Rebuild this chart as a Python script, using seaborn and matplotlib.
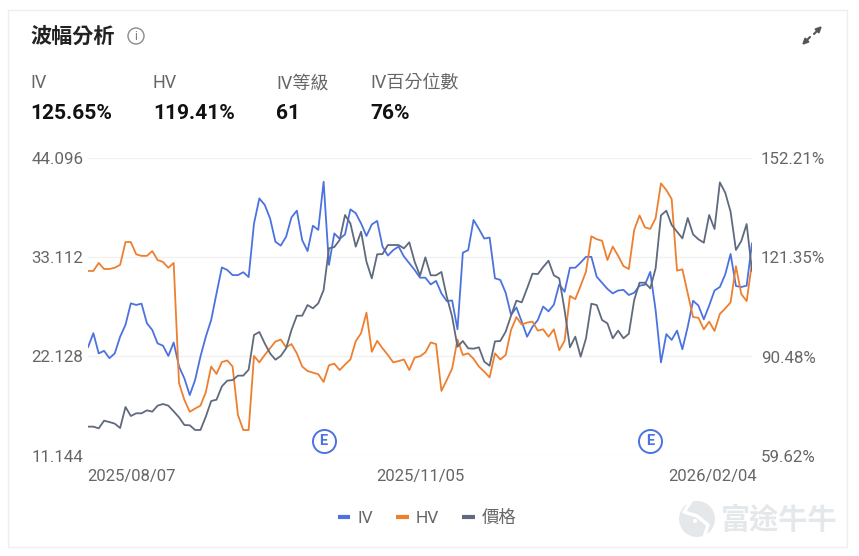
import numpy as np
import pandas as pd
import seaborn as sns
import matplotlib.pyplot as plt
from matplotlib.lines import Line2D
from matplotlib.patches import Circle, Rectangle
from matplotlib.transforms import ScaledTranslation

iv = [93.2, 97.6, 91.3, 92.1, 89.8, 91.3, 96.5, 100.2, 106.9, 106.4, 106.8, 100.7, 98.6, 94.4, 93.7, 90.5, 94.7, 87.2, 83.5, 78.3, 83.0, 90.3, 96.5, 101.7, 110.0,
      118.1, 117.3, 115.7, 115.7, 116.6, 115.1, 131.8, 139.6, 137.6, 133.4, 126.1, 124.9, 127.7, 133.7, 135.8, 126.6, 123.2, 131.1, 129.8, 144.8, 118.9, 128.7, 127.0, 128.4, 136.2,
      135.0, 131.8, 127.9, 131.5, 132.6, 124.6, 121.8, 123.5, 124.6, 121.5, 119.4, 117.3, 114.9, 114.9, 112.8, 113.9, 110.0, 107.6, 107.8, 98.8, 122.7, 123.5, 132.9, 130.1, 127.1,
      127.4, 114.7, 114.2, 110.2, 103.3, 105.6, 101.2, 96.5, 99.6, 101.7, 105.9, 104.4, 106.5, 112.8, 110.5, 118.0, 118.0, 119.6, 121.4, 121.4, 115.2, 113.3, 111.4, 110.0, 110.9,
      111.1, 109.5, 110.2, 112.4, 112.7, 116.7, 104.8, 88.5, 97.3, 95.5, 98.4, 92.6, 99.6, 107.7, 106.2, 101.9, 106.2, 110.9, 112.0, 115.9, 122.3, 112.3, 112.0, 112.4, 125.65]
hv = [117.0, 117.0, 119.5, 117.6, 117.6, 118.0, 118.9, 126.0, 126.0, 122.2, 121.7, 121.7, 123.2, 120.4, 119.8, 118.0, 119.5, 82.0, 76.8, 73.1, 74.1, 75.0, 79.2, 87.2, 84.9,
      88.6, 89.1, 87.2, 72.1, 67.4, 67.4, 90.5, 88.5, 90.8, 92.9, 95.0, 95.6, 93.2, 94.2, 91.3, 87.2, 85.8, 85.3, 84.8, 82.4, 87.6, 88.1, 86.1, 87.8, 89.4,
      95.1, 97.6, 104.0, 91.8, 95.2, 92.9, 90.8, 88.5, 88.9, 89.4, 86.1, 90.0, 90.4, 91.6, 94.7, 94.2, 79.6, 83.0, 86.6, 95.6, 90.8, 91.3, 89.6, 87.2, 85.6,
      83.8, 91.3, 89.4, 90.8, 98.6, 102.6, 100.3, 100.9, 101.2, 98.4, 98.8, 96.5, 98.8, 92.3, 95.2, 109.2, 108.2, 112.4, 116.8, 127.8, 126.9, 126.4, 120.4, 124.6, 121.7,
      118.5, 117.6, 129.8, 134.3, 130.6, 130.1, 133.4, 144.3, 142.2, 139.4, 117.1, 117.5, 110.0, 102.6, 102.4, 98.8, 101.2, 98.3, 103.6, 105.3, 107.2, 118.5, 109.8, 107.6, 119.41]
price = [14.29, 14.29, 14.10, 14.95, 14.80, 14.62, 14.14, 16.47, 15.47, 15.77, 15.77, 16.10, 15.95, 16.62, 16.80, 16.62, 15.99, 15.32, 14.47, 14.44, 13.92, 13.92, 15.40, 17.13, 17.28,
         18.76, 19.39, 19.46, 19.95, 19.95, 20.61, 24.46, 24.79, 23.53, 22.42, 21.72, 22.13, 22.98, 25.01, 26.60, 26.60, 27.78, 27.42, 27.97, 29.45, 34.07, 34.22, 35.00, 37.77, 36.84,
         34.26, 35.92, 32.59, 30.74, 33.41, 33.44, 34.44, 34.44, 34.44, 34.07, 34.74, 32.59, 31.04, 33.07, 31.08, 31.08, 31.45, 28.71, 26.49, 23.16, 23.79, 22.98, 22.94, 23.09, 21.50,
         21.05, 23.75, 23.79, 24.83, 26.60, 28.27, 28.08, 29.63, 31.26, 31.22, 32.00, 32.70, 31.08, 30.74, 27.23, 23.09, 24.27, 22.05, 24.09, 27.93, 27.78, 26.12, 25.75, 24.09, 24.94,
         24.09, 24.60, 28.34, 30.26, 30.26, 29.63, 31.85, 37.73, 38.25, 36.66, 35.92, 35.18, 37.44, 35.62, 35.07, 34.70, 37.77, 36.22, 41.39, 40.25, 38.14, 33.89, 34.88, 36.77, 31.56]

left_ticks = [11.144, 22.128, 33.112, 44.096]
right_ticks = [59.62, 90.48, 121.35, 152.21]
date_ticks = [0, 62, 124]
date_labels = ["2025/08/07", "2025/11/05", "2026/02/04"]
earnings_days = [44, 105]
earnings_level = [12.73, 12.73]
stat_names = ["IV", "HV", "IV等級", "IV百分位數"]
stat_values = ["125.65%", "119.41%", "61", "76%"]
legend_names = ["IV", "HV", "價格"]

BLUE = "#4b72e0"
ORANGE = "#ee7f2f"
SLATE = "#5f6a7d"
TEXT = "#666666"
MARK = "#e5e8ea"

sns.set_theme(style="white")
plt.rcParams["font.family"] = ["Roboto", "Noto Sans CJK TC", "DejaVu Sans"]

W, H = 859, 556
fig = plt.figure(figsize=(W / 100, H / 100), dpi=100, facecolor="white")


def nudge(label, dx, dy):
    # shift a tick label by a few pixels, y is up
    label.set_transform(label.get_transform() + ScaledTranslation(dx / 100, dy / 100, fig.dpi_scale_trans))


# page furniture is placed in pixels on an axes behind the chart
bg = fig.add_axes([0, 0, 1, 1], zorder=0)
bg.set_xlim(0, W)
bg.set_ylim(H, 0)
bg.axis("off")
bg.add_patch(Rectangle((7.5, 9.5), 839, 537, fc="white", ec="#eeeeee", lw=1))

bg.text(30, 37, "波幅分析", fontsize=15.2, color="#222222", va="center", weight="bold")
bg.add_patch(Circle((136, 36), 8, fc="none", ec="#8a8a8a", lw=1))
bg.text(136, 36.5, "i", fontsize=8.5, color="#777777", ha="center", va="center")

for x, name, val in zip([30, 153, 276, 370], stat_names, stat_values):
    bg.text(x, 83.5, name, fontsize=13, color=TEXT, va="center")
    bg.text(x, 113.5, val, fontsize=15.1, color="#111111", va="center", weight="bold")

arrow = dict(arrowstyle="-|>", color="#555555", lw=1.5, mutation_scale=8, shrinkA=0, shrinkB=0)
bg.annotate("", xy=(822, 26), xytext=(814, 34), arrowprops=arrow)
bg.annotate("", xy=(802, 45), xytext=(810, 37), arrowprops=arrow)

# watermark
bg.add_patch(Circle((697, 519), 18, fc=MARK, ec="none"))
bg.plot([691, 684, 697, 708, 704], [501, 512, 516, 525, 538], color="white", lw=2.5)
bg.add_patch(Circle((695, 521), 2, fc="white", ec="none"))
bg.text(721, 520.5, "富途牛牛", fontsize=21, color=MARK, va="center", weight="bold")

left, right, top, bottom = 88, 752, 158, 455
rect = [left / W, 1 - bottom / H, (right - left) / W, (bottom - top) / H]
ax = fig.add_axes(rect, zorder=1)
ax.patch.set_alpha(0)

days = np.arange(len(iv))
sns.lineplot(x=days, y=iv, ax=ax, color=BLUE, lw=1.3)
sns.lineplot(x=days, y=hv, ax=ax, color=ORANGE, lw=1.3)
ax.set_xlim(0, len(iv) - 1)
ax.set_ylim(right_ticks[0], right_ticks[-1])
ax.set_yticks(right_ticks)
ax.set_yticklabels([f"{v:.2f}%" for v in right_ticks])
ax.grid(True, axis="y", color="#f1f1f1", lw=1)
ax.set_axisbelow(True)

ax2 = ax.twinx()
sns.lineplot(x=days, y=price, ax=ax2, color=SLATE, lw=1.3)
ax2.set_ylim(left_ticks[0], left_ticks[-1])
ax2.set_yticks(left_ticks)
ax2.set_yticklabels([f"{v:.3f}" for v in left_ticks])
ax2.yaxis.tick_left()
ax.yaxis.tick_right()
ax2.set_ylabel("")
ax2.grid(False)

ax.set_xticks(date_ticks)
ax.set_xticklabels(date_labels)
ax.tick_params(axis="x", length=0, pad=10, labelsize=12, labelcolor=TEXT)
ax.tick_params(axis="y", length=0, pad=6.5, labelsize=12.2, labelcolor=TEXT)
ax2.tick_params(axis="y", length=0, pad=3.5, labelsize=12.2, labelcolor=TEXT)

xlabs = ax.get_xticklabels()
xlabs[0].set_ha("left")
xlabs[2].set_ha("right")
nudge(xlabs[0], -1, 0)
nudge(xlabs[2], 5, 0)
for a in (ax, ax2):
    for lab in a.get_yticklabels():
        lab.set_va("center")
        nudge(lab, 0, -2)
    for s in a.spines.values():
        s.set_visible(False)

# earnings markers
ax2.scatter(earnings_days, earnings_level, s=275, fc="white", ec=BLUE, lw=1.4, zorder=5, clip_on=False)
for d, lv in zip(earnings_days, earnings_level):
    ax2.text(d, lv, "E", color=BLUE, fontsize=10.5, ha="center", va="center", weight="bold", zorder=6)

handles = [Line2D([], [], color=c, lw=3, solid_capstyle="butt") for c in (BLUE, ORANGE, SLATE)]
fig.legend(handles, legend_names, loc="center", bbox_to_anchor=(427 / W, 1 - 518 / H), ncol=3,
           frameon=False, fontsize=12.5, labelcolor=TEXT, handlelength=0.72, handletextpad=0.4,
           columnspacing=1.33)

fig.savefig("out.png", dpi=100)
